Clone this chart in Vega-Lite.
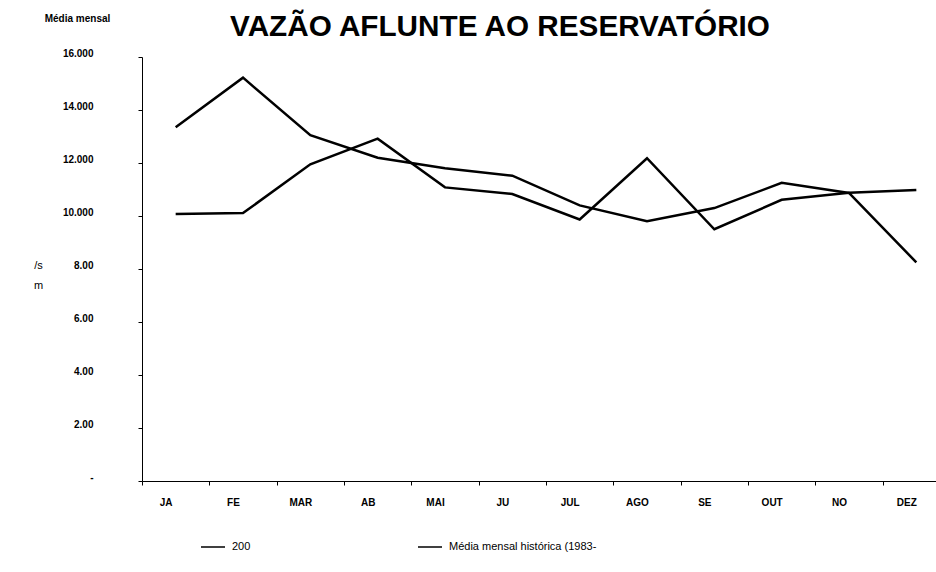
{
  "$schema": "https://vega.github.io/schema/vega-lite/v6.json",
  "width": 794,
  "height": 424,
  "autosize": {"type": "none"},
  "padding": {"left": 142, "top": 57, "right": 0, "bottom": 91},
  "background": "white",
  "title": {
    "text": "VAZÃO AFLUNTE AO RESERVATÓRIO",
    "font": "Liberation Sans",
    "fontSize": 29.7,
    "fontWeight": "bold",
    "color": "black",
    "anchor": "middle",
    "frame": "group",
    "dx": -39,
    "baseline": "alphabetic",
    "offset": -53
  },
  "config": {"view": {"stroke": null}, "font": "Liberation Sans"},
  "data": {
    "values": [
      {"mes": "JA", "serie": "Média mensal histórica (1983-", "vazao": 13350},
      {"mes": "FE", "serie": "Média mensal histórica (1983-", "vazao": 15220},
      {"mes": "MAR", "serie": "Média mensal histórica (1983-", "vazao": 13050},
      {"mes": "AB", "serie": "Média mensal histórica (1983-", "vazao": 12200},
      {"mes": "MAI", "serie": "Média mensal histórica (1983-", "vazao": 11800},
      {"mes": "JU", "serie": "Média mensal histórica (1983-", "vazao": 11520},
      {"mes": "JUL", "serie": "Média mensal histórica (1983-", "vazao": 10400},
      {"mes": "AGO", "serie": "Média mensal histórica (1983-", "vazao": 9800},
      {"mes": "SE", "serie": "Média mensal histórica (1983-", "vazao": 10300},
      {"mes": "OUT", "serie": "Média mensal histórica (1983-", "vazao": 11250},
      {"mes": "NO", "serie": "Média mensal histórica (1983-", "vazao": 10870},
      {"mes": "DEZ", "serie": "Média mensal histórica (1983-", "vazao": 8250},
      {"mes": "JA", "serie": "200", "vazao": 10080},
      {"mes": "FE", "serie": "200", "vazao": 10110},
      {"mes": "MAR", "serie": "200", "vazao": 11950},
      {"mes": "AB", "serie": "200", "vazao": 12920},
      {"mes": "MAI", "serie": "200", "vazao": 11080},
      {"mes": "JU", "serie": "200", "vazao": 10830},
      {"mes": "JUL", "serie": "200", "vazao": 9870},
      {"mes": "AGO", "serie": "200", "vazao": 12180},
      {"mes": "SE", "serie": "200", "vazao": 9500},
      {"mes": "OUT", "serie": "200", "vazao": 10610},
      {"mes": "NO", "serie": "200", "vazao": 10880},
      {"mes": "DEZ", "serie": "200", "vazao": 10980}
    ]
  },
  "layer": [
    {
      "mark": {"type": "line", "strokeWidth": 2.5, "color": "black"},
      "encoding": {
        "x": {
          "field": "mes",
          "type": "ordinal",
          "sort": ["JA", "FE", "MAR", "AB", "MAI", "JU", "JUL", "AGO", "SE", "OUT", "NO", "DEZ"],
          "scale": {"type": "band", "paddingInner": 0, "paddingOuter": 0, "range": [0, 808]},
          "axis": {
            "title": null,
            "labelAngle": 0,
            "labelFontSize": 10,
            "labelFontWeight": "bold",
            "labelColor": "black",
            "labelPadding": 12,
            "labelOffset": -10,
            "tickBand": "extent",
            "tickSize": 4,
            "tickColor": "black",
            "domainColor": "black",
            "grid": false
          }
        },
        "y": {
          "field": "vazao",
          "type": "quantitative",
          "scale": {"domain": [0, 16000]},
          "axis": {
            "title": "Média mensal",
            "titleAngle": 0,
            "titleX": -65,
            "titleY": -39,
            "titleAlign": "center",
            "titleBaseline": "middle",
            "titleFontSize": 10,
            "titleFontWeight": "bold",
            "titleColor": "black",
            "values": [0, 2000, 4000, 6000, 8000, 10000, 12000, 14000, 16000],
            "labelExpr": "datum.value == 0 ? '-' : (datum.value >= 10000 ? floor(datum.value / 1000) + '.000' : (datum.value / 1000) + '.00')",
            "labelFontSize": 10,
            "labelFontWeight": "bold",
            "labelColor": "black",
            "labelPadding": 45,
            "labelOffset": -4,
            "tickSize": 4,
            "tickColor": "black",
            "domainColor": "black",
            "grid": false
          }
        },
        "color": {
          "field": "serie",
          "type": "nominal",
          "scale": {"domain": ["200", "Média mensal histórica (1983-"], "range": ["black", "black"]},
          "legend": {
            "title": null,
            "orient": "none",
            "legendX": 58,
            "legendY": 477,
            "direction": "horizontal",
            "columns": 2,
            "columnPadding": 164,
            "padding": 0,
            "symbolType": "stroke",
            "symbolSize": 576,
            "symbolStrokeWidth": 1.5,
            "labelFontSize": 11,
            "labelColor": "black",
            "labelOffset": 6
          }
        }
      }
    },
    {
      "mark": {"type": "point", "opacity": 0},
      "encoding": {
        "x": {
          "field": "mes",
          "type": "ordinal",
          "sort": ["JA", "FE", "MAR", "AB", "MAI", "JU", "JUL", "AGO", "SE", "OUT", "NO", "DEZ"]
        },
        "y": {
          "field": "vazao",
          "type": "quantitative",
          "axis": {
            "orient": "left",
            "labels": false,
            "ticks": false,
            "domain": false,
            "grid": false,
            "title": ["/s", "m"],
            "titleAngle": 0,
            "titleX": -104,
            "titleY": 208,
            "titleAlign": "center",
            "titleBaseline": "middle",
            "titleFontSize": 11,
            "titleFontWeight": "normal",
            "titleColor": "black",
            "titleLineHeight": 20
          }
        }
      }
    }
  ],
  "resolve": {"axis": {"y": "independent"}}
}
